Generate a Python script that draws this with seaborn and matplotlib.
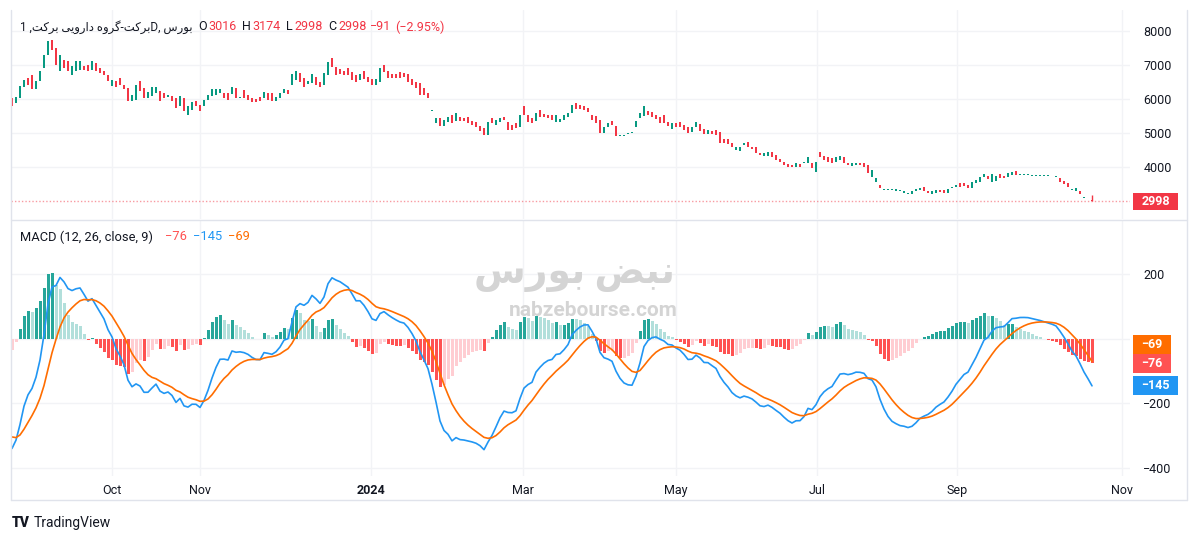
import numpy as np
import pandas as pd
import seaborn as sns
import matplotlib
matplotlib.use("Agg")
import matplotlib.pyplot as plt
from matplotlib.patches import Rectangle
from matplotlib.lines import Line2D
import matplotlib.transforms as mtransforms

# ---------------- data ----------------
opens = [
    6030, 5880, 6030, 6340, 6620, 6700, 6280, 6520, 6910, 7300,
    7750, 7500, 6810, 7160, 7110, 6720, 6830, 6860, 6960, 7010,
    6860, 7060, 6910, 6830, 6720, 6370, 6540, 6620, 6420, 6320,
    5930, 5980, 6520, 6320, 6030, 6080, 6180, 6230, 6180, 6050,
    6080, 6030, 5790, 6030, 5540, 5690, 5950, 5830, 5790, 5980,
    6080, 6130, 6180, 6180, 6180, 6150, 6310, 6020, 6270, 6120,
    6040, 5990, 6070, 6020, 6190, 6170, 5950, 6020, 6170, 6270,
    6410, 6560, 6760, 6610, 6440, 6460, 6660, 6510, 6410, 6710,
    7200, 6950, 6870, 6830, 6900, 6800, 6710, 6560, 6830, 6640,
    6580, 6410, 6510, 7000, 6830, 6740, 6740, 6780, 6760, 6740,
    6580, 6510, 6460, 6310, 6190, 5670, 5300, 5430, 5210, 5330,
    5530, 5350, 5460, 5430, 5460, 5360, 5310, 5210, 5140, 4940,
    5430, 5240, 5330, 5480, 5330, 5240, 5290, 5170, 5780, 5530,
    5430, 5360, 5680, 5560, 5530, 5530, 5330, 5310, 5380, 5480,
    5580, 5870, 5820, 5780, 5730, 5530, 5500, 5380, 4990, 5170,
    5360, 5210, 4920, 4940, 4960, 5010, 5170, 5430, 5500, 5660,
    5630, 5530, 5480, 5530, 5330, 5110, 5290, 5310, 5240, 5170,
    5040, 5170, 5270, 5110, 4970, 5070, 5090, 5040, 4820, 4820,
    4700, 4500, 4480, 4650, 4750, 4600, 4600, 4400, 4310, 4320,
    4450, 4350, 4230, 4160, 4080, 4060, 4010, 4090, 4130, 4110,
    4110, 3840, 4450, 4330, 4290, 4260, 4160, 4210, 4290, 4130,
    4030, 4060, 4130, 4110, 4060, 3720, 3570, 3470, 3345, 3325,
    3325, 3305, 3305, 3250, 3230, 3210, 3280, 3320, 3420, 3280,
    3210, 3230, 3320, 3320, 3250, 3390, 3420, 3520, 3520, 3470,
    3370, 3520, 3570, 3700, 3740, 3570, 3600, 3790, 3740, 3720,
    3770, 3890, 3785, 3775, 3775, 3755, 3755, 3755, 3745, 3745,
    3735, 3715, 3670, 3600, 3520, 3345, 3300, 3280, 3110, 3089,
    3016,
]
closes = [
    5790, 6060, 6370, 6570, 6420, 6300, 6520, 6830, 7280, 7700,
    7450, 7010, 7300, 6910, 6810, 6960, 7110, 7110, 6860, 6810,
    7130, 6810, 6770, 6720, 6520, 6570, 6340, 6400, 6280, 5930,
    6130, 6420, 6230, 6030, 6200, 6340, 6340, 5930, 6030, 6130,
    5930, 5740, 6080, 5640, 5790, 5910, 5790, 5640, 5980, 6130,
    6280, 6300, 6280, 6030, 5980, 6350, 6020, 6070, 6020, 5970,
    5900, 5900, 5950, 6220, 5970, 5950, 6070, 6170, 6290, 6140,
    6740, 6830, 6510, 6360, 6540, 6740, 6410, 6360, 6760, 7100,
    6950, 6710, 6740, 6710, 6710, 6560, 6510, 6740, 6580, 6490,
    6410, 6580, 6900, 6780, 6610, 6610, 6610, 6610, 6640, 6510,
    6410, 6310, 6120, 6120, 6020, 5670, 5430, 5210, 5380, 5480,
    5300, 5580, 5360, 5360, 5290, 5240, 5170, 5070, 4940, 5310,
    5290, 5380, 5430, 5380, 5090, 5090, 5140, 5530, 5530, 5330,
    5290, 5600, 5460, 5460, 5430, 5380, 5530, 5400, 5530, 5600,
    5820, 5700, 5700, 5680, 5630, 5380, 5290, 4990, 5190, 5290,
    5240, 4910, 4920, 4940, 4990, 5010, 5350, 5580, 5800, 5530,
    5460, 5400, 5290, 5290, 5210, 5290, 5190, 5190, 5090, 5010,
    5170, 5310, 5070, 4970, 5090, 4970, 4940, 4700, 4700, 4680,
    4580, 4600, 4600, 4700, 4580, 4520, 4420, 4350, 4400, 4450,
    4290, 4210, 4160, 4060, 4010, 3990, 4110, 4010, 4130, 4290,
    3960, 4160, 4290, 4210, 4160, 4130, 4290, 4310, 4130, 4060,
    4110, 4130, 4060, 4010, 3820, 3910, 3670, 3370, 3345, 3325,
    3325, 3345, 3305, 3300, 3230, 3280, 3340, 3370, 3280, 3250,
    3280, 3320, 3270, 3250, 3340, 3390, 3460, 3420, 3440, 3370,
    3570, 3620, 3720, 3790, 3640, 3790, 3740, 3670, 3670, 3810,
    3860, 3760, 3785, 3775, 3775, 3755, 3755, 3755, 3745, 3745,
    3735, 3715, 3570, 3500, 3420, 3345, 3370, 3210, 3110, 3089,
    2998,
]
last_high = 3174
last_low = 2998

month_labels = ["Oct", "Nov", "2024", "Mar", "May", "Jul", "Sep", "Nov"]
month_pos = [25, 47, 89.75, 127.75, 166, 201.25, 236.25, 277.5]
price_ticks = [8000, 7000, 6000, 5000, 4000]
macd_ticks = [200, -200, -400]
macd_grid = [200, 0, -200, -400]

fast_len, slow_len, signal_len = 12, 26, 9
fast_init, slow_init, signal_init = 6100, 6440, -295
legend_hist, legend_macd, legend_signal = -76, -145, -69

# Persian text in visual (left-to-right) presentation forms
W_BRKT = "\uFE96\uFB90\uFEAE\uFE91"                  # برکت
W_GROUH = "\uFEE9\uFEED\uFEAE\uFB94"                 # گروه
W_DAROUI = "\uFBFD\uFBFE\uFEED\uFEAD\uFE8D\uFEA9"    # دارویی
W_BOURS = "\uFEB1\uFEAD\uFEEE\uFE91"                 # بورس
W_NABZ = "\uFEBE\uFE92\uFEE7"                        # نبض

# ---------------- style ----------------
sns.set_style("white")
plt.rcParams['font.family'] = ['Roboto', 'DejaVu Sans']
DARK = '#131722'
UP, DOWN = '#089981', '#F23645'
GRID = '#f2f3f6'
BORDER = '#e0e3eb'

W, H = 1200, 542
fig = plt.figure(figsize=(12, 5.42), dpi=100)
def fx(px): return px / W
def fy(py): return 1 - py / H

n = len(closes)
idx = np.arange(n)
o = np.array(opens, float)
c = np.array(closes, float)

def ema(vals, span, init):
    a = 2.0 / (span + 1)
    e = init
    out = []
    for v in vals:
        e = a * v + (1 - a) * e
        out.append(e)
    return np.array(out)

fast = ema(c, fast_len, fast_init)
slow = ema(c, slow_len, slow_init)
macd = fast - slow
signal = ema(macd, signal_len, signal_init)
hist = macd - signal
prev_hist = np.concatenate([[fast_init - slow_init - signal_init], hist[:-1]])
kind = np.where(hist >= 0,
                np.where(hist > prev_hist, 'up_strong', 'up_weak'),
                np.where(hist > prev_hist, 'down_weak', 'down_strong'))
pal = {'up_strong': '#26A69A', 'up_weak': '#B2DFDB',
       'down_strong': '#FF5252', 'down_weak': '#FFCDD2'}

ax1 = fig.add_axes([fx(11), fy(219), fx(1130) - fx(11), fy(10) - fy(219)])
ax2 = fig.add_axes([fx(11), fy(476), fx(1130) - fx(11), fy(220) - fy(476)])

XL = (-0.25, 279.5)
P_YL = (2471, 8618)
M_YL = (-425, 369)

# ---------------- price pane ----------------
for t in price_ticks:
    ax1.axhline(t, color=GRID, lw=1, zorder=0)
for m in month_pos:
    ax1.axvline(m, color=GRID, lw=1, zorder=0)

up = c >= o
col = np.where(up, UP, DOWN)
raw_h = np.abs(c - o)
body_h = np.maximum(raw_h, 28)
body_b = np.minimum(o, c) - (body_h - raw_h) / 2
ax1.vlines(idx[-1], last_low, last_high, color=DOWN, lw=1, zorder=2)
ax1.bar(idx, body_h, bottom=body_b, width=0.62, color=col, lw=0, zorder=3)
ax1.axhline(c[-1], color=DOWN, lw=1, ls=(0, (1, 1.5)), alpha=0.5, zorder=1)

ax1.set_xlim(*XL)
ax1.set_ylim(*P_YL)
ax1.yaxis.tick_right()
ax1.set_yticks(price_ticks)
ax1.set_yticklabels([str(t) for t in price_ticks])
ax1.tick_params(axis='y', length=0, pad=9.5, labelsize=9, colors=DARK)
ax1.set_xticks([])
for s in ax1.spines.values():
    s.set_visible(False)

# ---------------- MACD pane ----------------
for t in macd_grid:
    ax2.axhline(t, color=GRID, lw=1, zorder=0)
for m in month_pos:
    ax2.axvline(m, color=GRID, lw=1, zorder=0)

df = pd.DataFrame({'i': idx, 'hist': hist, 'kind': kind})
sns.barplot(data=df, x='i', y='hist', hue='kind', palette=pal, native_scale=True,
            dodge=False, width=0.75, errorbar=None, legend=False, saturation=1,
            linewidth=0, ax=ax2, zorder=2)
sns.lineplot(x=idx, y=macd, color='#2196F3', lw=1.2, ax=ax2, zorder=4)
sns.lineplot(x=idx, y=signal, color='#FF6D00', lw=1.2, ax=ax2, zorder=4)

ax2.set_xlim(*XL)
ax2.set_ylim(*M_YL)
ax2.yaxis.tick_right()
ax2.set_yticks(macd_ticks)
ax2.set_yticklabels([str(t).replace('-', '\u2212') for t in macd_ticks])
ax2.tick_params(axis='y', length=0, pad=9.5, labelsize=9, colors=DARK)
ax2.set_xticks(month_pos)
ax2.set_xticklabels(month_labels)
ax2.tick_params(axis='x', length=0, pad=6, labelsize=9, colors=DARK)
for lab in ax2.get_xticklabels():
    if lab.get_text().isdigit():
        lab.set_fontweight('bold')
ax2.set_xlabel('')
ax2.set_ylabel('')
for s in ax2.spines.values():
    s.set_visible(False)

# ---------------- value boxes on the scales ----------------
def value_box(ax, val, text, color, x0, x1, hpx, px_per_unit):
    tr = mtransforms.blended_transform_factory(fig.transFigure, ax.transData)
    h = hpx / px_per_unit
    r = Rectangle((fx(x0), val - h / 2), fx(x1) - fx(x0), h, transform=tr,
                  facecolor=color, edgecolor='none', clip_on=False, zorder=10)
    fig.add_artist(r)
    fig.text((fx(x0) + fx(x1)) / 2, val, text, transform=tr, color='white',
             fontsize=9, fontweight='bold', ha='center', va='center', zorder=11)

def fmt(v):
    return str(v).replace('-', '\u2212')

value_box(ax1, c[-1], f"{c[-1]:.0f}", DOWN, 1133, 1178, 17, 0.034)
m_ppu = 0.3225
hist_box_h = 19
value_box(ax2, legend_hist, fmt(legend_hist), '#FF5252', 1133, 1171, hist_box_h, m_ppu)
value_box(ax2, legend_hist + hist_box_h / m_ppu, fmt(legend_signal), '#FF6D00', 1133, 1171, hist_box_h, m_ppu)
value_box(ax2, legend_macd, fmt(legend_macd), '#2196F3', 1133, 1178, hist_box_h, m_ppu)

# ---------------- frame lines ----------------
for (x0, y0, x1, y1) in [(11, 10, 11, 500), (1187, 10, 1187, 500),
                         (11, 500, 1187, 500), (11, 219.5, 1187, 219.5)]:
    fig.add_artist(Line2D([fx(x0), fx(x1)], [fy(y0), fy(y1)], color=BORDER, lw=1,
                          transform=fig.transFigure))

# ---------------- header texts ----------------
fig.canvas.draw()
renderer = fig.canvas.get_renderer()

def put(x, y, text, color, size=9):
    return fig.text(fx(x), fy(y), text, color=color, fontsize=size, va='center', ha='left')

# title: fitted so that it spans x = 20 .. 192 as in the reference
title = "1 ," + W_BRKT + " " + W_DAROUI + " " + W_GROUH + "-" + W_BRKT + "D, " + W_BOURS
tt = put(20, 27, title, DARK, 9)
w0 = tt.get_window_extent(renderer).width
tt.set_fontsize(9 * min(1.1, 172.0 / w0))

chg = c[-1] - c[-2]
pct = chg / c[-2] * 100
put(198, 27, "O", DARK); put(208, 27, f"{o[-1]:.0f}", DOWN)
put(242, 27, "H", DARK); put(252, 27, f"{last_high}", DOWN)
put(286, 27, "L", DARK); put(294, 27, f"{last_low}", DOWN)
put(328, 27, "C", DARK); put(338, 27, f"{c[-1]:.0f}", DOWN)
put(370, 27, fmt(f"{chg:.0f}"), DOWN)
put(395, 27, "(" + fmt(f"{pct:.2f}") + "%)", DOWN)

put(20, 237, f"MACD ({fast_len}, {slow_len}, close, {signal_len})", DARK, 9.3)
put(165, 237, fmt(legend_hist), '#FF5252', 9.3)
put(193, 237, fmt(legend_macd), '#2196F3', 9.3)
put(228, 237, fmt(legend_signal), '#FF6D00', 9.3)

# watermark
fig.text(fx(574), fy(274), W_BOURS + " " + W_NABZ, color='#d4d4d4', fontsize=27,
         fontweight='bold', ha='center', va='center', zorder=1)
fig.text(fx(593), fy(311), "nabzebourse.com", color='#d4d4d4', fontsize=15,
         fontweight='bold', ha='center', va='center', zorder=1)

# TradingView logo
fig.text(fx(12), fy(523), "TV", color=DARK, fontsize=10, fontweight='heavy',
         ha='left', va='center')
fig.text(fx(34), fy(523), "TradingView", color=DARK, fontsize=10, ha='left', va='center')

fig.savefig("out.png", dpi=100, facecolor='white')
